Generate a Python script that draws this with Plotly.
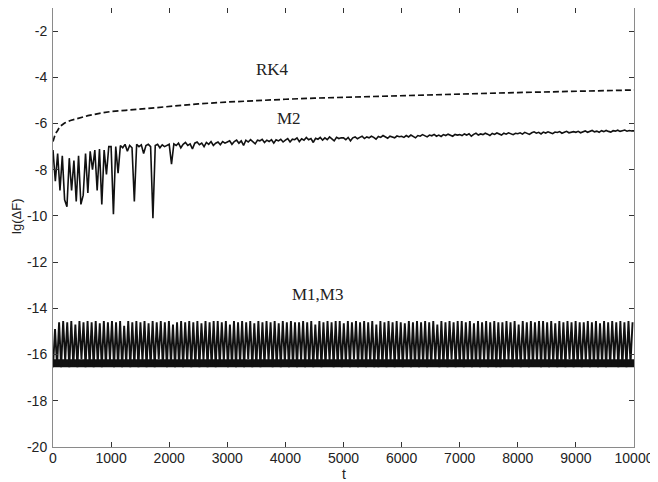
import numpy as np
import plotly.graph_objects as go

# ---------------- data ----------------
rk4_t = [0, 40, 80, 120, 160, 200, 300, 400, 500, 600, 800, 1000, 1250, 1500,
         2000, 2500, 3000, 3500, 4000, 4500, 5000, 5500, 6000, 6500, 7000,
         7500, 8000, 8500, 9000, 9500, 10000]
rk4_y = [-6.78, -6.45, -6.3, -6.12, -6.05, -5.98, -5.87, -5.8, -5.73, -5.66,
         -5.56, -5.48, -5.43, -5.37, -5.25, -5.15, -5.07, -5.0, -4.95, -4.9,
         -4.86, -4.82, -4.78, -4.75, -4.72, -4.69, -4.66, -4.63, -4.6, -4.58, -4.55]

m2_step = 40  # sampling step of the M2 curve (t units)
m2_y = [
    -7.15, -8.5, -7.3, -8.9, -7.4, -9.3, -9.6, -7.5, -8.9, -7.6, -9.37, -7.4, -9.5,
    -9.1, -7.3, -9.0, -7.2, -8.0, -7.15, -8.9, -7.1, -9.5, -7.15, -8.2, -7.0,
    -7.0, -9.93, -7.0, -8.15, -6.95, -7.05, -6.9, -7.2, -6.95, -7.05, -9.37, -6.9, -7.0,
    -6.92, -7.3, -6.95, -6.9, -7.0, -10.1, -6.95, -6.9, -7.05, -6.92, -7.0, -6.95,
    -6.9, -7.76, -6.88, -6.95, -6.85, -7.05, -6.9, -6.82, -6.95, -6.88, -7.1, -6.85, -6.8,
    -6.92, -6.85, -7.0, -6.82, -6.9, -6.78, -6.95, -6.85, -6.8, -6.92, -6.78, -6.85,
    -6.8, -6.75, -6.9, -6.78, -6.72, -6.85, -6.75, -6.95, -6.72, -6.8, -6.7, -6.78, -6.88,
    -6.72, -6.75, -6.68, -6.82, -6.72, -6.78, -6.7, -6.85, -6.7, -6.75, -6.68, -6.8,
    -6.72, -6.65, -6.8, -6.68, -6.7, -6.62, -6.78, -6.66, -6.72, -6.6, -6.7, -6.65, -6.82,
    -6.64, -6.68, -6.6, -6.72, -6.62, -6.7, -6.58, -6.66, -6.75, -6.6, -6.65, -6.62,
    -6.62, -6.7, -6.6, -6.75, -6.62, -6.58, -6.66, -6.6, -6.55, -6.65, -6.58, -6.62, -6.55,
    -6.6, -6.68, -6.56, -6.6, -6.52, -6.58, -6.64, -6.55, -6.58, -6.62, -6.54, -6.57,
    -6.55, -6.6, -6.52, -6.58, -6.5, -6.56, -6.62, -6.52, -6.55, -6.48, -6.54, -6.58, -6.5,
    -6.53, -6.47, -6.55, -6.5, -6.56, -6.48, -6.52, -6.46, -6.5, -6.55, -6.47, -6.5,
    -6.48, -6.52, -6.45, -6.5, -6.44, -6.55, -6.47, -6.42, -6.5, -6.45, -6.48, -6.42, -6.46,
    -6.52, -6.43, -6.47, -6.41, -6.45, -6.5, -6.42, -6.46, -6.4, -6.44, -6.48, -6.42,
    -6.44, -6.4, -6.46, -6.38, -6.42, -6.47, -6.4, -6.36, -6.42, -6.38, -6.45, -6.37, -6.41,
    -6.36, -6.4, -6.44, -6.37, -6.39, -6.35, -6.42, -6.38, -6.34, -6.4, -6.37, -6.35,
    -6.38, -6.34, -6.4, -6.36, -6.32, -6.38, -6.35, -6.3, -6.36, -6.33, -6.38, -6.31, -6.35,
    -6.3, -6.34, -6.37, -6.31, -6.33, -6.29, -6.34, -6.31, -6.28, -6.33, -6.3, -6.32,
    -6.32,
]

m13_step = 35  # sampling step of the M1,M3 curve (t units)
m13_y = [
    -16.55, -14.9, -16.5, -14.6, -16.55, -14.55, -16.3, -14.6, -16.55, -14.55, -16.5, -14.7, -16.55, -14.55, -16.2, -14.6, -16.55, -14.55, -16.5, -14.6,
    -16.55, -14.55, -16.4, -14.65, -16.55, -14.55, -16.5, -14.6, -16.25, -14.55, -16.55, -14.6, -16.5, -14.55, -16.55, -14.75, -16.4, -14.55, -16.55, -14.6,
    -16.5, -14.55, -16.55, -14.6, -16.3, -14.55, -16.55, -14.65, -16.5, -14.55, -16.55, -14.6, -16.2, -14.55, -16.5, -14.6, -16.55, -14.55, -16.4, -14.7,
    -16.55, -14.6, -16.5, -14.55, -16.55, -14.6, -16.35, -14.55, -16.55, -14.6, -16.5, -14.55, -16.55, -14.65, -16.25, -14.55, -16.55, -14.6, -16.5, -14.55,
    -16.55, -14.55, -16.5, -14.6, -16.3, -14.55, -16.55, -14.7, -16.5, -14.55, -16.55, -14.6, -16.4, -14.55, -16.55, -14.6, -16.2, -14.55, -16.55, -14.65,
    -16.5, -14.55, -16.55, -14.6, -16.5, -14.55, -16.3, -14.6, -16.55, -14.55, -16.5, -14.65, -16.55, -14.55, -16.35, -14.6, -16.55, -14.55, -16.5, -14.6,
    -16.55, -14.6, -16.25, -14.55, -16.55, -14.6, -16.5, -14.55, -16.55, -14.7, -16.4, -14.55, -16.55, -14.6, -16.5, -14.55, -16.3, -14.6, -16.55, -14.55,
    -16.5, -14.55, -16.55, -14.65, -16.4, -14.55, -16.55, -14.6, -16.2, -14.55, -16.55, -14.6, -16.5, -14.55, -16.55, -14.6, -16.35, -14.55, -16.55, -14.7,
    -16.55, -14.55, -16.5, -14.6, -16.55, -14.55, -16.3, -14.6, -16.55, -14.55, -16.5, -14.6, -16.55, -14.65, -16.25, -14.55, -16.55, -14.6, -16.5, -14.55,
    -16.55, -14.6, -16.4, -14.55, -16.55, -14.6, -16.5, -14.55, -16.3, -14.7, -16.55, -14.55, -16.5, -14.6, -16.55, -14.55, -16.2, -14.6, -16.55, -14.55,
    -16.5, -14.55, -16.55, -14.6, -16.35, -14.55, -16.55, -14.65, -16.5, -14.55, -16.55, -14.6, -16.3, -14.55, -16.55, -14.6, -16.5, -14.55, -16.55, -14.6,
    -16.55, -14.6, -16.5, -14.55, -16.25, -14.6, -16.55, -14.55, -16.5, -14.7, -16.55, -14.55, -16.4, -14.6, -16.55, -14.55, -16.5, -14.6, -16.3, -14.55,
    -16.55, -14.55, -16.5, -14.6, -16.55, -14.55, -16.35, -14.65, -16.55, -14.55, -16.5, -14.6, -16.55, -14.55, -16.2, -14.6, -16.55, -14.55, -16.5, -14.6,
    -16.55, -14.6, -16.3, -14.55, -16.55, -14.6, -16.5, -14.55, -16.55, -14.65, -16.4, -14.55, -16.55, -14.6, -16.5, -14.55, -16.3, -14.6, -16.55, -14.55,
    -16.5, -14.6, -16.55, -14.55, -16.4, -14.6,
]
# dense (solid-looking) floor of the M1,M3 band
floor_t = [0, 10000]
floor_lo = [-16.55, -16.55]
floor_hi = [-16.2, -16.2]

x_ticks = [0, 1000, 2000, 3000, 4000, 5000, 6000, 7000, 8000, 9000, 10000]
y_ticks = [-20, -18, -16, -14, -12, -10, -8, -6, -4, -2]

labels = ["RK4", "M2", "M1,M3"]
label_t = [3780, 4070, 4550]
label_y = [-3.68, -5.79, -13.4]

# ---------------- figure ----------------
m2_t = np.arange(len(m2_y)) * m2_step
m13_t = np.arange(len(m13_y)) * m13_step

fig = go.Figure()
fig.add_trace(go.Scatter(x=floor_t, y=floor_lo, mode="lines",
                         line=dict(color="#111111", width=0)))
fig.add_trace(go.Scatter(x=floor_t, y=floor_hi, mode="lines", fill="tonexty",
                         fillcolor="#111111", line=dict(color="#111111", width=0)))
fig.add_trace(go.Scatter(x=m13_t, y=m13_y, mode="lines",
                         line=dict(color="#111111", width=1.9)))
fig.add_trace(go.Scatter(x=m2_t, y=m2_y, mode="lines",
                         line=dict(color="#111111", width=1.6)))
fig.add_trace(go.Scatter(x=rk4_t, y=rk4_y, mode="lines",
                         line=dict(color="#111111", width=1.7, dash="6px,3px")))

for txt, tx, ty in zip(labels, label_t, label_y):
    fig.add_annotation(x=tx, y=ty, text=txt, showarrow=False,
                       font=dict(family="Liberation Serif", size=17, color="#222222"))

# axis titles as paper-anchored texts
fig.add_annotation(x=0.5, y=-0.0615, xref="paper", yref="paper", text="t",
                   showarrow=False, yanchor="middle",
                   font=dict(family="Liberation Sans", size=14, color="#222222"))
fig.add_annotation(x=-0.064, y=0.526, xref="paper", yref="paper", text="lg(ΔF)",
                   showarrow=False, textangle=-90, xanchor="center", yanchor="middle",
                   font=dict(family="Liberation Sans", size=13, color="#222222"))

axis_common = dict(showgrid=False, zeroline=False, showline=True, linecolor="#8a8a8a",
                   linewidth=1, mirror="ticks", ticks="inside", ticklen=5,
                   tickcolor="#333333", tickwidth=1, automargin=False,
                   tickfont=dict(family="Liberation Sans", size=14, color="#222222"))

fig.update_xaxes(range=[0, 10000], tickvals=x_ticks,
                 ticktext=[str(v) for v in x_ticks], ticklabelstandoff=-2,
                 **axis_common)
fig.update_yaxes(range=[-20, -1], tickvals=y_ticks,
                 ticktext=[str(v) for v in y_ticks], ticklabelstandoff=2,
                 **axis_common)

# the page adds an 8px body margin, so the figure is sized/offset to compensate
fig.update_layout(width=650, height=474, showlegend=False,
                  plot_bgcolor="white", paper_bgcolor="white",
                  margin=dict(l=45, r=24, t=0, b=35))

fig.write_html("out.html")
